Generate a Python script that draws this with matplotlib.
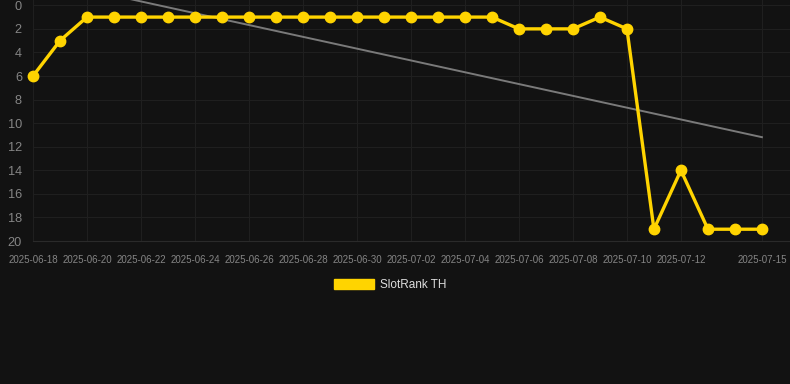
import matplotlib
matplotlib.use("Agg")
import matplotlib.pyplot as plt
import matplotlib.dates as mdates
import matplotlib.patches as mpatches
import numpy as np
import pandas as pd

plt.rcParams['font.family'] = ['Liberation Sans', 'DejaVu Sans']

dates = pd.date_range("2025-06-18", "2025-07-15", freq="D")
ranks = [6, 3] + [1] * 16 + [2, 2, 2, 1, 2, 19, 14, 19, 19, 19]
tick_labels = ["2025-06-18", "2025-06-20", "2025-06-22", "2025-06-24", "2025-06-26",
               "2025-06-28", "2025-06-30", "2025-07-02", "2025-07-04", "2025-07-06",
               "2025-07-08", "2025-07-10", "2025-07-12", "2025-07-15"]
series_name = "SlotRank TH"

bg = "#121212"
fig = plt.figure(figsize=(7.9, 3.84), dpi=100, facecolor=bg)
ax = fig.add_axes([33 / 790, 1 - 241 / 384, (790 - 33) / 790, 241 / 384])
ax.set_facecolor(bg)

# trend line (linear regression)
idx = np.arange(len(ranks))
k, b = np.polyfit(idx, ranks, 1)
ax.plot(dates, k * idx + b, color="#7a7a7a", lw=1.4, zorder=2)

ax.plot(dates, ranks, color="#FFD400", lw=2.4, marker="o", markersize=7.5,
        markerfacecolor="#FFD400", markeredgecolor="#FFD400", zorder=3, clip_on=False)

ax.set_ylim(20, -0.45)
ax.set_yticks(np.arange(0, 21, 2))
tick_dates = pd.to_datetime(tick_labels)
ax.set_xticks(tick_dates)
ax.set_xticklabels(tick_labels)
x0 = mdates.date2num(dates[0])
ax.set_xlim(x0, x0 + 28.04)

ax.grid(True, color="#1f1f1f", lw=0.8)
ax.set_axisbelow(True)
for s in ["top", "right", "left"]:
    ax.spines[s].set_visible(False)
ax.spines["bottom"].set_color("#2a2a2a")
ax.tick_params(axis="both", length=0)
ax.tick_params(axis="x", labelsize=7, colors="#858585", pad=10)
ax.tick_params(axis="y", labelsize=9.2, colors="#858585", pad=8)

handle = mpatches.Patch(facecolor="#FFD400", edgecolor="#FFD400", label=series_name)
leg = fig.legend(handles=[handle], loc="center", bbox_to_anchor=(390 / 790, 1 - 285 / 384),
                 frameon=False, fontsize=8.5, handlelength=3.4, handleheight=0.95,
                 handletextpad=0.5)
for t in leg.get_texts():
    t.set_color("#dddddd")

fig.savefig("out.png", dpi=100, facecolor=bg)
